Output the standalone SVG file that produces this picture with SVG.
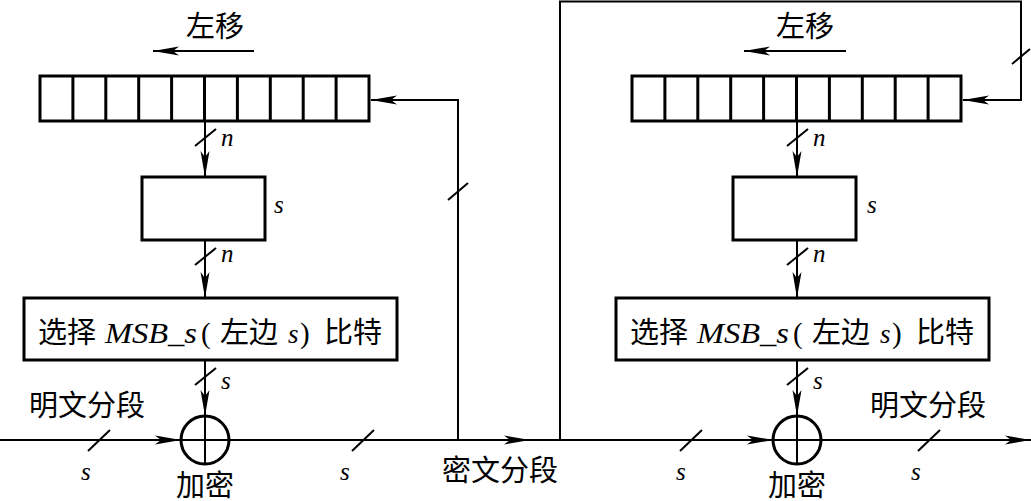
<svg xmlns="http://www.w3.org/2000/svg" width="1031" height="501" viewBox="0 0 1031 501">
<style>
.box{fill:#fff;stroke:#000;stroke-width:3}
.cell{stroke:#000;stroke-width:3}
.ln{fill:none;stroke:#000;stroke-width:2}
.sl{stroke:#000;stroke-width:2}
.cn{font-family:"Liberation Serif","Noto Sans CJK SC",serif;font-size:29px;fill:#000}
.it{font-family:"Liberation Serif",serif;font-style:italic;font-size:30px;fill:#000}
.lb{font-family:"Liberation Serif",serif;font-style:italic;font-size:25px;fill:#000}
</style>
<defs>
<marker id="ah" viewBox="0 0 26 10" refX="26" refY="5" markerWidth="26" markerHeight="10" markerUnits="userSpaceOnUse" orient="auto">
<path d="M0,0.5 L26,5 L0,9.5 L6,5 Z" fill="#000"/>
</marker>
<g id="regT">
<rect class="box" x="40" y="76" width="329" height="45"/>
<path class="cell" d="M72.9,76V121M105.8,76V121M138.7,76V121M171.6,76V121M204.5,76V121M237.4,76V121M270.3,76V121M303.2,76V121M336.1,76V121"/>
</g>
<g id="selT">
<rect class="box" x="24" y="298" width="373" height="62"/>
<text y="343"><tspan class="cn" x="38">选择</tspan><tspan class="it" x="105" textLength="92" lengthAdjust="spacingAndGlyphs">MSB_s</tspan><tspan class="cn" x="201">(</tspan><tspan class="cn" x="220">左边</tspan><tspan class="lb" x="288" style="font-size:27px">s</tspan><tspan class="cn" x="300">)</tspan><tspan class="cn" x="324">比特</tspan></text>
</g>
</defs>

<g id="left-shift-label">
<text class="cn" x="186" y="37">左移</text>
<line class="ln" x1="254" y1="51" x2="153" y2="51" marker-end="url(#ah)"/>
</g>
<g id="left-register"><use href="#regT"/></g>
<g id="left-sbox"><rect class="box" x="142" y="177" width="123" height="63"/><text class="lb" x="274" y="213">s</text></g>
<g id="left-select"><use href="#selT"/></g>
<g id="left-xor">
<circle cx="205" cy="440" r="24" fill="none" stroke="#000" stroke-width="3"/>
<line class="ln" x1="205" y1="416" x2="205" y2="465"/>
<line class="ln" x1="181" y1="440" x2="229" y2="440"/>
<text class="cn" x="176" y="496">加密</text>
</g>
<g id="left-plain-label"><text class="cn" x="29" y="416">明文分段</text></g>

<g id="cipher-label"><text class="cn" x="442" y="481">密文分段</text></g>

<g id="right-shift-label">
<text class="cn" x="776" y="37">左移</text>
<line class="ln" x1="846" y1="51" x2="744" y2="51" marker-end="url(#ah)"/>
</g>
<g id="right-register"><use href="#regT" transform="translate(592,0)"/></g>
<g id="right-sbox"><rect class="box" x="733" y="177" width="123" height="63"/><text class="lb" x="867" y="213">s</text></g>
<g id="right-select"><use href="#selT" transform="translate(592,0)"/></g>
<g id="right-xor">
<circle cx="797" cy="440" r="24" fill="none" stroke="#000" stroke-width="3"/>
<line class="ln" x1="797" y1="416" x2="797" y2="465"/>
<line class="ln" x1="773" y1="440" x2="821" y2="440"/>
<text class="cn" x="768" y="496">加密</text>
</g>
<g id="right-plain-label"><text class="cn" x="870" y="416">明文分段</text></g>

<g id="connectors">
<!-- left column -->
<line class="ln" x1="205" y1="121" x2="205" y2="177" marker-end="url(#ah)"/>
<line class="sl" x1="195" y1="146" x2="216" y2="129"/>
<text class="lb" x="221" y="146">n</text>
<line class="ln" x1="205" y1="240" x2="205" y2="298" marker-end="url(#ah)"/>
<line class="sl" x1="195" y1="265" x2="216" y2="248"/>
<text class="lb" x="221" y="262">n</text>
<line class="ln" x1="205" y1="360" x2="205" y2="416" marker-end="url(#ah)"/>
<line class="sl" x1="195" y1="385" x2="216" y2="368"/>
<text class="lb" x="221" y="389">s</text>
<!-- right column -->
<line class="ln" x1="797" y1="121" x2="797" y2="177" marker-end="url(#ah)"/>
<line class="sl" x1="787" y1="146" x2="808" y2="129"/>
<text class="lb" x="813" y="146">n</text>
<line class="ln" x1="797" y1="240" x2="797" y2="298" marker-end="url(#ah)"/>
<line class="sl" x1="787" y1="265" x2="808" y2="248"/>
<text class="lb" x="813" y="262">n</text>
<line class="ln" x1="797" y1="360" x2="797" y2="416" marker-end="url(#ah)"/>
<line class="sl" x1="787" y1="385" x2="808" y2="368"/>
<text class="lb" x="813" y="389">s</text>
<!-- main horizontal line -->
<line class="ln" x1="0" y1="440" x2="181" y2="440" marker-end="url(#ah)"/>
<line class="sl" x1="88" y1="451" x2="110" y2="430"/>
<text class="lb" x="81" y="480">s</text>
<line class="ln" x1="229" y1="440" x2="530" y2="440" marker-end="url(#ah)"/>
<line class="sl" x1="352" y1="451" x2="374" y2="430"/>
<text class="lb" x="340" y="480">s</text>
<line class="ln" x1="530" y1="440" x2="773" y2="440" marker-end="url(#ah)"/>
<line class="sl" x1="680" y1="451" x2="702" y2="430"/>
<text class="lb" x="676" y="480">s</text>
<line class="ln" x1="821" y1="440" x2="1031" y2="440" marker-end="url(#ah)"/>
<line class="sl" x1="918" y1="451" x2="940" y2="430"/>
<text class="lb" x="911" y="480">s</text>
<!-- left feedback -->
<polyline class="ln" points="458,440 458,100 371,100" marker-end="url(#ah)"/>
<line class="sl" x1="448" y1="200" x2="468" y2="183"/>
<!-- right feedback -->
<polyline class="ln" points="560,440 560,1.5 1021,1.5 1021,100 963,100" marker-end="url(#ah)"/>
<line class="sl" x1="1012" y1="64" x2="1030" y2="49"/>
</g>
</svg>
